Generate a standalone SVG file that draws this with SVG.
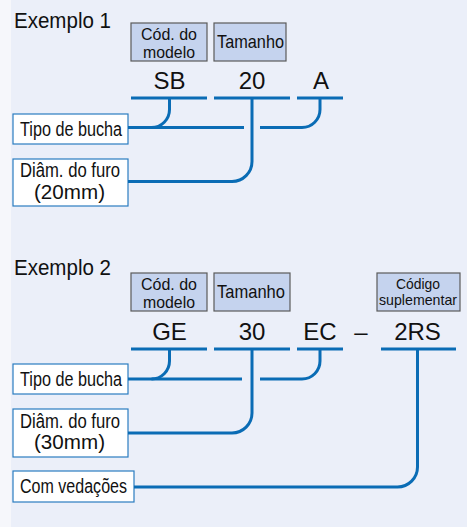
<svg xmlns="http://www.w3.org/2000/svg" width="467" height="527" viewBox="0 0 467 527">
<style>
.bg{fill:#ebeff9}
.hdr{fill:#c5d3ee;stroke:#5a5a5a;stroke-width:1.2}
.lbl{fill:#ffffff;stroke:#2a7cc0;stroke-width:1.2}
.ln{fill:none;stroke:#0a6cb5;stroke-width:3}
text{font-family:"Liberation Sans",Arial,sans-serif;fill:#111}
.t1{font-size:22px}
.th{font-size:17px}
.ts{font-size:15px}
.tm{font-size:19px}
.code{font-size:24px;text-anchor:middle}
.tl{font-size:19.5px}
.mm{font-size:20px}
</style>
<rect x="0" y="0" width="467" height="527" fill="#f6f7fb"/>
<rect class="bg" x="11" y="0" width="456" height="527"/>

<g id="ex1-title"><text class="t1" x="14" y="28" textLength="97" lengthAdjust="spacingAndGlyphs">Exemplo 1</text></g>
<g id="ex1-hdr-model"><rect class="hdr" x="131" y="23" width="76" height="38"/>
<text class="th" x="141" y="40" textLength="56" lengthAdjust="spacingAndGlyphs">Cód. do</text>
<text class="th" x="143" y="58" textLength="52" lengthAdjust="spacingAndGlyphs">modelo</text></g>
<g id="ex1-hdr-size"><rect class="hdr" x="214" y="23" width="72" height="38"/>
<text class="tm" x="217" y="48" textLength="67" lengthAdjust="spacingAndGlyphs">Tamanho</text></g>
<g id="ex1-codes">
<text class="code" x="169.5" y="89">SB</text>
<text class="code" x="252" y="89">20</text>
<text class="code" x="321" y="89">A</text>
</g>
<g id="ex1-tipo"><rect class="lbl" x="13" y="114" width="115" height="30"/>
<text class="tl" x="20" y="136" textLength="102" lengthAdjust="spacingAndGlyphs">Tipo de bucha</text></g>
<g id="ex1-diam"><rect class="lbl" x="13" y="159" width="115" height="47"/>
<text class="tl" x="20" y="177" textLength="100" lengthAdjust="spacingAndGlyphs">Diâm. do furo</text>
<text class="mm" x="34" y="199" textLength="71" lengthAdjust="spacingAndGlyphs">(20mm)</text></g>

<g id="ex1-connectors">
<path class="ln" d="M131 98H207M214 98H290M297 98H343"/>
<path class="ln" d="M128 127.5H244M260 127.5H302A18 18 0 0 0 320 109.5V98"/>
<path class="ln" d="M169.5 98V109.5A18 18 0 0 1 151.5 127.5"/>
<path class="ln" d="M128 181.5H232A20 20 0 0 0 252 161.5V98"/>
</g>

<g id="ex2-title"><text class="t1" x="14" y="275" textLength="97" lengthAdjust="spacingAndGlyphs">Exemplo 2</text></g>
<g id="ex2-hdr-model"><rect class="hdr" x="131" y="273" width="76" height="38"/>
<text class="th" x="141" y="290" textLength="56" lengthAdjust="spacingAndGlyphs">Cód. do</text>
<text class="th" x="143" y="308" textLength="52" lengthAdjust="spacingAndGlyphs">modelo</text></g>
<g id="ex2-hdr-size"><rect class="hdr" x="214" y="273" width="76" height="38"/>
<text class="tm" x="217" y="298" textLength="68" lengthAdjust="spacingAndGlyphs">Tamanho</text></g>
<g id="ex2-hdr-supp"><rect class="hdr" x="377" y="273" width="83" height="38"/>
<text class="ts" x="396" y="289" textLength="44" lengthAdjust="spacingAndGlyphs">Código</text>
<text class="ts" x="379" y="305" textLength="78" lengthAdjust="spacingAndGlyphs">suplementar</text></g>
<g id="ex2-codes">
<text class="code" x="169.5" y="340">GE</text>
<text class="code" x="252" y="340">30</text>
<text class="code" x="320" y="340">EC</text>
<text class="code" x="361" y="340">–</text>
<text class="code" x="417.5" y="340">2RS</text>
</g>
<g id="ex2-tipo"><rect class="lbl" x="13" y="364" width="115" height="30"/>
<text class="tl" x="20" y="386" textLength="102" lengthAdjust="spacingAndGlyphs">Tipo de bucha</text></g>
<g id="ex2-diam"><rect class="lbl" x="13" y="409" width="115" height="48"/>
<text class="tl" x="20" y="428" textLength="100" lengthAdjust="spacingAndGlyphs">Diâm. do furo</text>
<text class="mm" x="34" y="449" textLength="71" lengthAdjust="spacingAndGlyphs">(30mm)</text></g>
<g id="ex2-com"><rect class="lbl" x="13" y="471" width="121" height="31"/>
<text class="tl" x="20" y="493" textLength="107" lengthAdjust="spacingAndGlyphs">Com vedações</text></g>

<g id="ex2-connectors">
<path class="ln" d="M131 349H207M214 349H290M297 349H343M381 349H456"/>
<path class="ln" d="M128 379H242M260 379H302A18 18 0 0 0 320 361V349"/>
<path class="ln" d="M169.5 349V361A18 18 0 0 1 151.5 379"/>
<path class="ln" d="M128 433H232A20 20 0 0 0 252 413V349"/>
<path class="ln" d="M134 487H397.5A20 20 0 0 0 417.5 467V349"/>
</g>
</svg>
